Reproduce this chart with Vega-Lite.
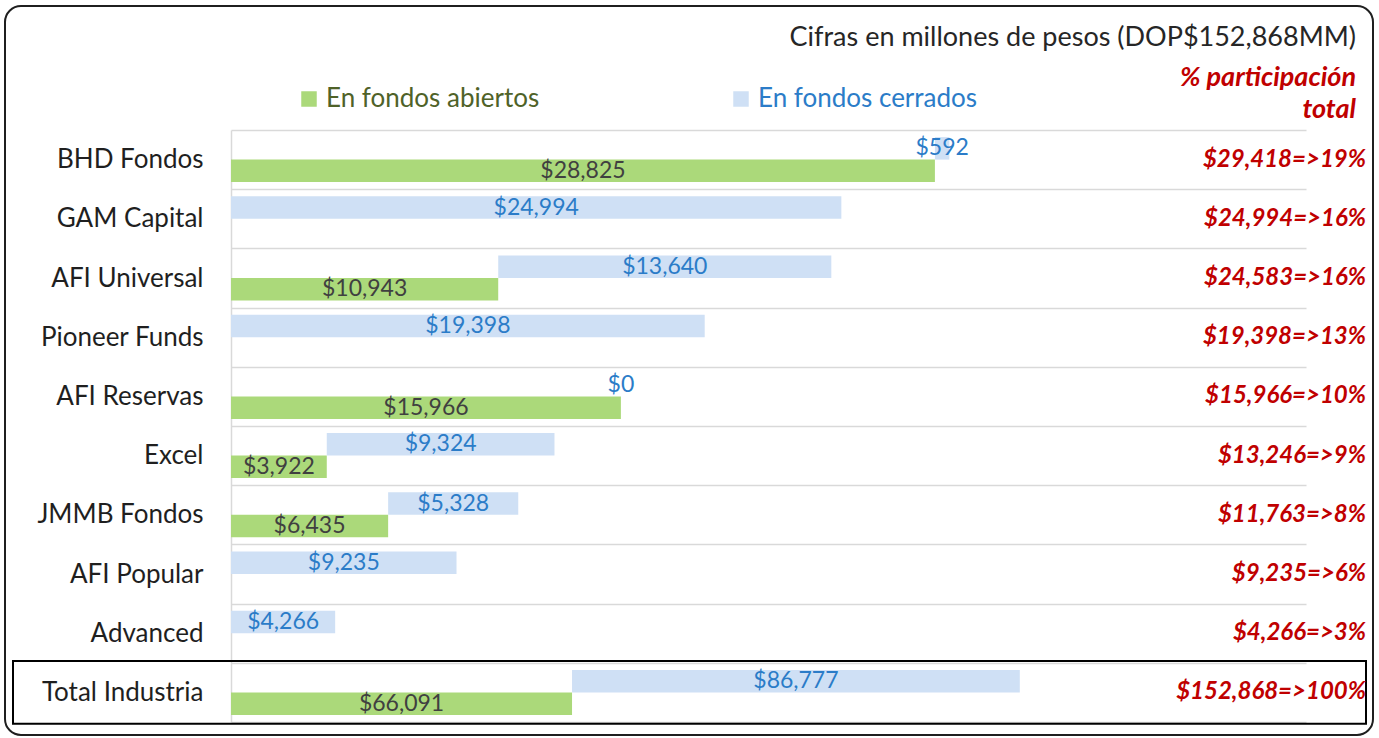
{
  "$schema": "https://vega.github.io/schema/vega-lite/v6.json",
  "width": 1368,
  "height": 729,
  "autosize": "none",
  "padding": {"left": 5, "right": 6, "top": 6, "bottom": 3},
  "background": "white",
  "config": {
    "font": "Lato",
    "view": {"stroke": "#1f1f1f", "strokeWidth": 2, "cornerRadius": 16}
  },
  "title": {
    "text": "Cifras en millones de pesos (DOP$152,868MM)",
    "subtitle": ["% participación", "total"],
    "anchor": "end",
    "frame": "group",
    "orient": "top",
    "offset": -131,
    "dx": -17,
    "font": "Lato",
    "fontSize": 27,
    "fontWeight": "normal",
    "color": "#262626",
    "subtitleFont": "Lato",
    "subtitleFontSize": 27,
    "subtitleFontStyle": "italic",
    "subtitleFontWeight": "bold",
    "subtitleColor": "#C00000",
    "subtitlePadding": 13,
    "subtitleLineHeight": 32
  },
  "datasets": {
    "barras": [
      {"empresa": "BHD Fondos", "tipo": "En fondos abiertos", "valor": 28825},
      {"empresa": "BHD Fondos", "tipo": "En fondos cerrados", "valor": 592},
      {"empresa": "GAM Capital", "tipo": "En fondos cerrados", "valor": 24994},
      {"empresa": "AFI Universal", "tipo": "En fondos abiertos", "valor": 10943},
      {"empresa": "AFI Universal", "tipo": "En fondos cerrados", "valor": 13640},
      {"empresa": "Pioneer Funds", "tipo": "En fondos cerrados", "valor": 19398},
      {"empresa": "AFI Reservas", "tipo": "En fondos abiertos", "valor": 15966},
      {"empresa": "AFI Reservas", "tipo": "En fondos cerrados", "valor": 0},
      {"empresa": "Excel", "tipo": "En fondos abiertos", "valor": 3922},
      {"empresa": "Excel", "tipo": "En fondos cerrados", "valor": 9324},
      {"empresa": "JMMB Fondos", "tipo": "En fondos abiertos", "valor": 6435},
      {"empresa": "JMMB Fondos", "tipo": "En fondos cerrados", "valor": 5328},
      {"empresa": "AFI Popular", "tipo": "En fondos cerrados", "valor": 9235},
      {"empresa": "Advanced", "tipo": "En fondos cerrados", "valor": 4266},
      {"empresa": "Total Industria", "tipo": "En fondos abiertos", "valor": 66091},
      {"empresa": "Total Industria", "tipo": "En fondos cerrados", "valor": 86777}
    ],
    "totales": [
      {"empresa": "BHD Fondos", "total": 29418, "pct": 19},
      {"empresa": "GAM Capital", "total": 24994, "pct": 16},
      {"empresa": "AFI Universal", "total": 24583, "pct": 16},
      {"empresa": "Pioneer Funds", "total": 19398, "pct": 13},
      {"empresa": "AFI Reservas", "total": 15966, "pct": 10},
      {"empresa": "Excel", "total": 13246, "pct": 9},
      {"empresa": "JMMB Fondos", "total": 11763, "pct": 8},
      {"empresa": "AFI Popular", "total": 9235, "pct": 6},
      {"empresa": "Advanced", "total": 4266, "pct": 3},
      {"empresa": "Total Industria", "total": 152868, "pct": 100}
    ]
  },
  "encoding": {
    "y": {
      "field": "empresa",
      "type": "nominal",
      "scale": {
        "domain": ["BHD Fondos", "GAM Capital", "AFI Universal", "Pioneer Funds", "AFI Reservas", "Excel", "JMMB Fondos", "AFI Popular", "Advanced", "Total Industria"],
        "range": [124, 716],
        "paddingInner": 0,
        "paddingOuter": 0
      },
      "axis": {
        "title": null,
        "orient": "left",
        "offset": -226,
        "ticks": false,
        "domainColor": "#D9D9D9",
        "domainWidth": 1.5,
        "labelFont": "Lato",
        "labelFontSize": 26,
        "labelColor": "#1f1f1f",
        "labelPadding": 28,
        "labelLimit": 400,
        "grid": true,
        "gridColor": "#D9D9D9",
        "gridWidth": 1.5,
        "tickBand": "extent"
      }
    }
  },
  "layer": [
    {
      "data": {"name": "barras"},
      "transform": [
        {"stack": "valor", "groupby": ["empresa"], "sort": [{"field": "tipo", "order": "ascending"}], "as": ["x0", "x1"]},
        {"filter": "datum.empresa !== 'Total Industria'"}
      ],
      "mark": {"type": "bar"},
      "encoding": {
        "x": {"field": "x0", "type": "quantitative", "scale": {"domain": [0, 44021], "range": [226, 1301]}, "axis": null},
        "x2": {"field": "x1"},
        "yOffset": {"field": "tipo", "type": "nominal", "scale": {"domain": ["En fondos cerrados", "En fondos abiertos"], "paddingInner": 0, "paddingOuter": 0.316}},
        "color": {
          "field": "tipo",
          "type": "nominal",
          "scale": {"domain": ["En fondos abiertos", "En fondos cerrados"], "range": ["#ABD97A", "#CFE0F5"]},
          "legend": {
            "title": null,
            "orient": "none",
            "legendX": 291,
            "legendY": 80,
            "direction": "horizontal",
            "symbolType": "square",
            "symbolSize": 240,
            "symbolStrokeWidth": 0,
            "labelFont": "Lato",
            "labelFontSize": 26,
            "labelLimit": 400,
            "labelOffset": 4,
            "columnPadding": 188,
            "padding": 0,
            "encode": {"labels": {"update": {"fill": {"signal": "datum.label === 'En fondos abiertos' ? '#4F6228' : '#2B7CC8'"}}}}
          }
        }
      }
    },
    {
      "data": {"name": "barras"},
      "transform": [
        {"stack": "valor", "groupby": ["empresa"], "sort": [{"field": "tipo", "order": "ascending"}], "as": ["x0", "x1"]},
        {"filter": "datum.empresa !== 'Total Industria'"},
        {"calculate": "(datum.x0 + datum.x1) / 2", "as": "xm"}
      ],
      "mark": {"type": "text", "font": "Lato", "fontSize": 23, "baseline": "middle", "align": "center"},
      "encoding": {
        "x": {"field": "xm", "type": "quantitative", "scale": {"domain": [0, 44021], "range": [226, 1301]}, "axis": null},
        "yOffset": {"field": "tipo", "type": "nominal", "scale": {"domain": ["En fondos cerrados", "En fondos abiertos"], "paddingInner": 0, "paddingOuter": 0.316}},
        "text": {"field": "valor", "type": "quantitative", "format": "$,.0f"},
        "color": {"condition": {"test": "datum.tipo === 'En fondos abiertos'", "value": "#404040"}, "value": "#2B7CC8"}
      }
    },
    {
      "data": {"name": "barras"},
      "transform": [
        {"stack": "valor", "groupby": ["empresa"], "sort": [{"field": "tipo", "order": "ascending"}], "as": ["x0", "x1"]},
        {"filter": "datum.empresa === 'Total Industria'"}
      ],
      "mark": {"type": "bar"},
      "encoding": {
        "x": {"field": "x0", "type": "quantitative", "scale": {"domain": [0, 208333], "range": [226, 1301]}, "axis": null},
        "x2": {"field": "x1"},
        "yOffset": {"field": "tipo", "type": "nominal", "scale": {"domain": ["En fondos cerrados", "En fondos abiertos"], "paddingInner": 0, "paddingOuter": 0.316}},
        "color": {
          "field": "tipo",
          "type": "nominal",
          "scale": {"domain": ["En fondos abiertos", "En fondos cerrados"], "range": ["#ABD97A", "#CFE0F5"]},
          "legend": {
            "title": null,
            "orient": "none",
            "legendX": 291,
            "legendY": 80,
            "direction": "horizontal",
            "symbolType": "square",
            "symbolSize": 240,
            "symbolStrokeWidth": 0,
            "labelFont": "Lato",
            "labelFontSize": 26,
            "labelLimit": 400,
            "labelOffset": 4,
            "columnPadding": 188,
            "padding": 0,
            "encode": {"labels": {"update": {"fill": {"signal": "datum.label === 'En fondos abiertos' ? '#4F6228' : '#2B7CC8'"}}}}
          }
        }
      }
    },
    {
      "data": {"name": "barras"},
      "transform": [
        {"stack": "valor", "groupby": ["empresa"], "sort": [{"field": "tipo", "order": "ascending"}], "as": ["x0", "x1"]},
        {"filter": "datum.empresa === 'Total Industria'"},
        {"calculate": "(datum.x0 + datum.x1) / 2", "as": "xm"}
      ],
      "mark": {"type": "text", "font": "Lato", "fontSize": 23, "baseline": "middle", "align": "center"},
      "encoding": {
        "x": {"field": "xm", "type": "quantitative", "scale": {"domain": [0, 208333], "range": [226, 1301]}, "axis": null},
        "yOffset": {"field": "tipo", "type": "nominal", "scale": {"domain": ["En fondos cerrados", "En fondos abiertos"], "paddingInner": 0, "paddingOuter": 0.316}},
        "text": {"field": "valor", "type": "quantitative", "format": "$,.0f"},
        "color": {"condition": {"test": "datum.tipo === 'En fondos abiertos'", "value": "#404040"}, "value": "#2B7CC8"}
      }
    },
    {
      "data": {"name": "totales"},
      "transform": [{"filter": "datum.empresa === 'Total Industria'"}],
      "mark": {"type": "bar", "fillOpacity": 0, "stroke": "#000000", "strokeWidth": 2, "height": {"band": 1.06}},
      "encoding": {
        "x": {"datum": -8927, "type": "quantitative", "scale": {"domain": [0, 44021], "range": [226, 1301]}, "axis": null},
        "x2": {"datum": 46478}
      }
    },
    {
      "data": {"name": "totales"},
      "transform": [{"calculate": "'$' + format(datum.total, ',') + '=>' + datum.pct + '%'", "as": "etiqueta"}],
      "mark": {"type": "text", "align": "right", "baseline": "middle", "font": "Lato", "fontSize": 24, "fontStyle": "italic", "fontWeight": "bold", "color": "#C00000", "dx": -7},
      "encoding": {
        "x": {"value": "width"},
        "text": {"field": "etiqueta", "type": "nominal"}
      }
    }
  ],
  "resolve": {"scale": {"x": "independent"}}
}
